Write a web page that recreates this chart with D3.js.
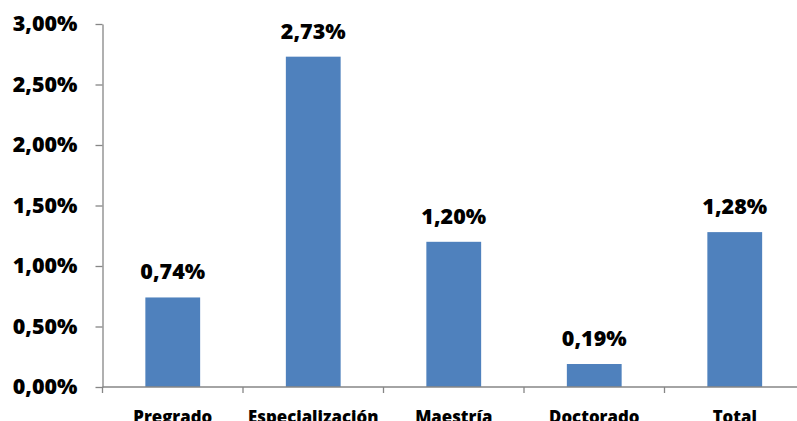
<!DOCTYPE html>
<html>
<head>
<meta charset="utf-8">
<script src="https://cdn.jsdelivr.net/npm/d3@7"></script>
<style>
  body { margin: 0; background: #fff; }
  svg { display: block; }
</style>
</head>
<body>
<script>
const categories = ["Pregrado", "Especialización", "Maestría", "Doctorado", "Total"];
const values = [0.74, 2.73, 1.20, 0.19, 1.28];
const yTicks = [0, 0.5, 1, 1.5, 2, 2.5, 3];

const width = 797, height = 421;
const margin = { top: 24, right: -8, bottom: 34, left: 102.5 };

const fmt = v => d3.format(".2f")(v).replace(".", ",") + "%";

const x = d3.scaleBand()
  .domain(categories)
  .range([margin.left, width - margin.right])
  .paddingInner(0.61)
  .paddingOuter(0.305);

const y = d3.scaleLinear()
  .domain([0, 3])
  .range([height - margin.bottom, margin.top]);

const svg = d3.select("body").append("svg")
  .attr("width", width)
  .attr("height", height)
  .style("font-family", "'Open Sans', sans-serif")
  .style("font-weight", "bold");

// bars
svg.append("g")
  .selectAll("rect")
  .data(values)
  .join("rect")
  .attr("x", (d, i) => x(categories[i]))
  .attr("y", d => y(d))
  .attr("width", x.bandwidth())
  .attr("height", d => y(0) - y(d))
  .attr("fill", "#4f81bd");

// data labels
svg.append("g")
  .selectAll("text")
  .data(values)
  .join("text")
  .attr("x", (d, i) => x(categories[i]) + x.bandwidth() / 2)
  .attr("y", d => y(d) - 18)
  .attr("text-anchor", "middle")
  .attr("font-size", 21.5)
  .attr("font-weight", 800)
  .attr("fill", "#000")
  .text(d => fmt(d));

// y axis
const yAxis = g => g
  .attr("transform", `translate(${margin.left},0)`)
  .call(d3.axisLeft(y).tickValues(yTicks).tickFormat(fmt).tickSize(7).tickPadding(18).tickSizeOuter(0))
  .call(g => g.selectAll("line, path").attr("stroke", "#868686").attr("stroke-width", 1.3))
  .call(g => g.selectAll("text").attr("font-size", 21.5).attr("fill", "#000")
    .attr("font-family", "'Open Sans', sans-serif").attr("font-weight", 800));

// x axis with ticks between categories
const step = x.step();
const boundaries = categories.map((c, i) => margin.left + i * step).concat([margin.left + categories.length * step]);

const xAxis = g => {
  g.attr("transform", `translate(0,${y(0)})`);
  g.append("line")
    .attr("x1", margin.left).attr("x2", width - margin.right)
    .attr("stroke", "#868686").attr("stroke-width", 1.3);
  g.selectAll(".sep")
    .data(boundaries)
    .join("line")
    .attr("class", "sep")
    .attr("x1", d => d).attr("x2", d => d)
    .attr("y1", 0).attr("y2", 6)
    .attr("stroke", "#868686").attr("stroke-width", 1.3);
  g.selectAll(".lbl")
    .data(categories)
    .join("text")
    .attr("class", "lbl")
    .attr("x", d => x(d) + x.bandwidth() / 2)
    .attr("y", 35.5)
    .attr("text-anchor", "middle")
    .attr("font-size", 16.8)
    .attr("font-weight", 800)
    .attr("fill", "#000")
    .text(d => d);
};

svg.append("g").call(yAxis);
svg.append("g").call(xAxis);
</script>
</body>
</html>
